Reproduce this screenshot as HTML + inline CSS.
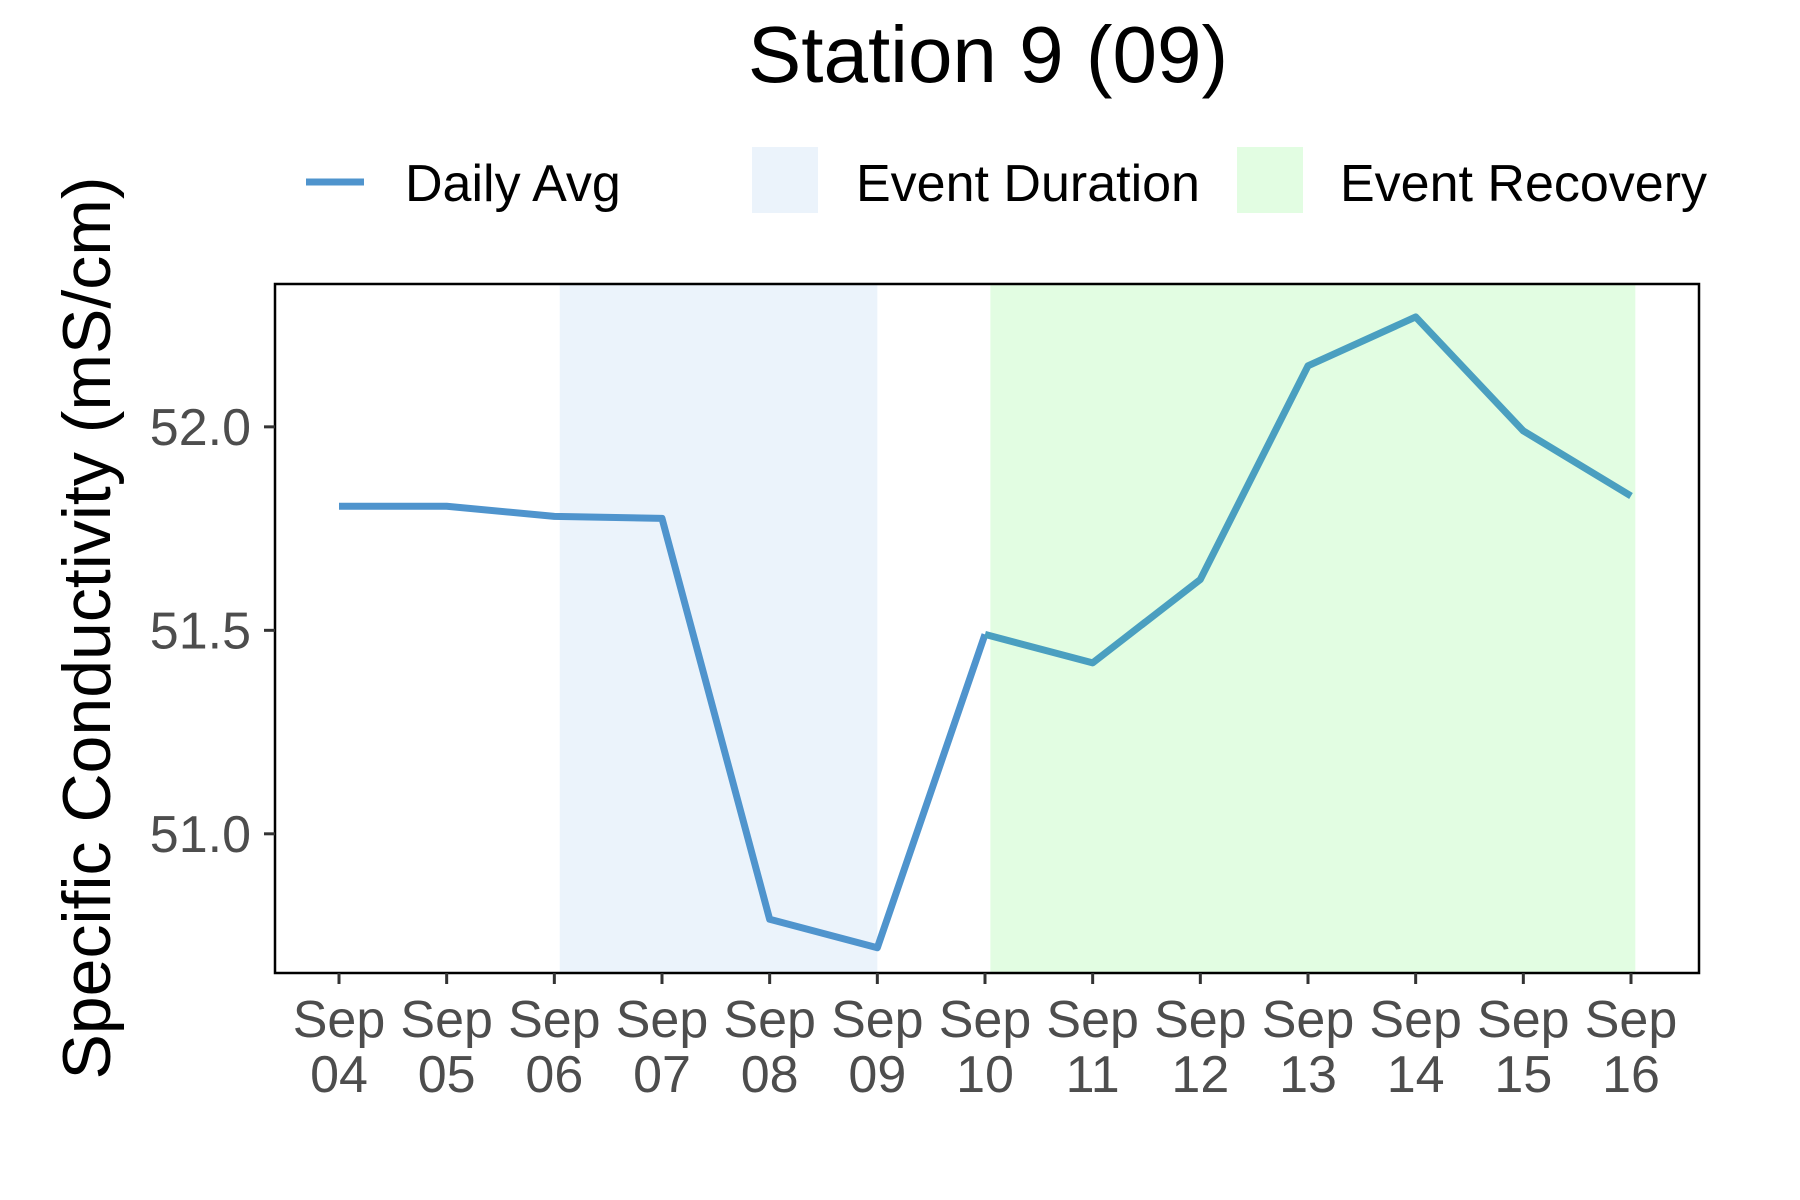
<!DOCTYPE html>
<html><head><meta charset="utf-8"><style>
body{margin:0;background:#fff;}
svg{display:block;font-family:"Liberation Sans",sans-serif;}
</style></head><body>
<svg id="chart" width="1800" height="1200" viewBox="0 0 1800 1200">
<text x="988" y="82" font-size="80" text-anchor="middle" fill="#000">Station 9 (09)</text>
<g>
<line x1="306" y1="182" x2="364" y2="182" stroke="#4f94cd" stroke-width="7"/>
<text x="405" y="201" font-size="52" fill="#000">Daily Avg</text>
<rect x="752" y="147" width="66" height="66" fill="#ebf3fb"/>
<text x="856" y="201" font-size="52" fill="#000">Event Duration</text>
<rect x="1237" y="147" width="66" height="66" fill="#e2fde2"/>
<text x="1340" y="201" font-size="52" fill="#000">Event Recovery</text>
</g>
<text transform="translate(110,628) rotate(-90)" font-size="68" text-anchor="middle" fill="#000">Specific Conductivity (mS/cm)</text>
<g id="plot"></g>
</svg>
<script>
const days = ["04","05","06","07","08","09","10","11","12","13","14","15","16"];
const values = [51.805,51.805,51.78,51.775,50.79,50.72,51.49,51.42,51.625,52.15,52.27,51.99,51.83];
const yTicks = [51.0,51.5,52.0];
const yTickLabels = ["51.0","51.5","52.0"];
const durationSpan = [2.05,5.0];
const recoverySpan = [6.05,12.04];

const L=275,R=1699,T=284,B=973;
const x0=339,dx=(1631-339)/12;
const yMin=50.658,yMax=52.351;
const X=i=>x0+i*dx;
const Y=v=>B-(v-yMin)/(yMax-yMin)*(B-T);
const NS="http://www.w3.org/2000/svg";
const g=document.getElementById('plot');
function mk(t,a){const e=document.createElementNS(NS,t);for(const k in a)e.setAttribute(k,a[k]);g.appendChild(e);return e;}

let r=mk('rect',{x:X(durationSpan[0]),y:T,width:X(durationSpan[1])-X(durationSpan[0]),height:B-T,fill:'#ebf3fb'});


r=mk('rect',{x:X(recoverySpan[0]),y:T,width:X(recoverySpan[1])-X(recoverySpan[0]),height:B-T,fill:'#e2fde2'});



let p1=[],p2=[];
values.forEach((v,i)=>{ if(i<=6)p1.push(X(i)+','+Y(v)); if(i>=6)p2.push(X(i)+','+Y(v)); });
let l=mk('polyline',{points:p1.join(' '),fill:'none',stroke:'#4f94cd','stroke-width':7,'stroke-linejoin':'round'});


l=mk('polyline',{points:p2.join(' '),fill:'none',stroke:'#4a9fc0','stroke-width':7,'stroke-linejoin':'round'});



let f=mk('rect',{x:L,y:T,width:R-L,height:B-T,fill:'none',stroke:'#000','stroke-width':2.5});



yTicks.forEach((v,i)=>{
  const tk=mk('line',{x1:L-11,x2:L,y1:Y(v),y2:Y(v),stroke:'#333','stroke-width':3});
  
  
  const t=mk('text',{x:L-24,y:Y(v)+18,'font-size':52,'text-anchor':'end',fill:'#4d4d4d'});
  t.textContent=yTickLabels[i];
  
  
});
days.forEach((d,i)=>{
  const tk=mk('line',{x1:X(i),x2:X(i),y1:B,y2:B+11,stroke:'#333','stroke-width':3});
  
  
  const t=mk('text',{x:X(i),y:1037,'font-size':52,'text-anchor':'middle',fill:'#4d4d4d'});
  t.textContent='Sep';
  
  
  const t2=mk('text',{x:X(i),y:1092,'font-size':52,'text-anchor':'middle',fill:'#4d4d4d'});
  t2.textContent=d;
  
  
});
</script>
</body></html>
